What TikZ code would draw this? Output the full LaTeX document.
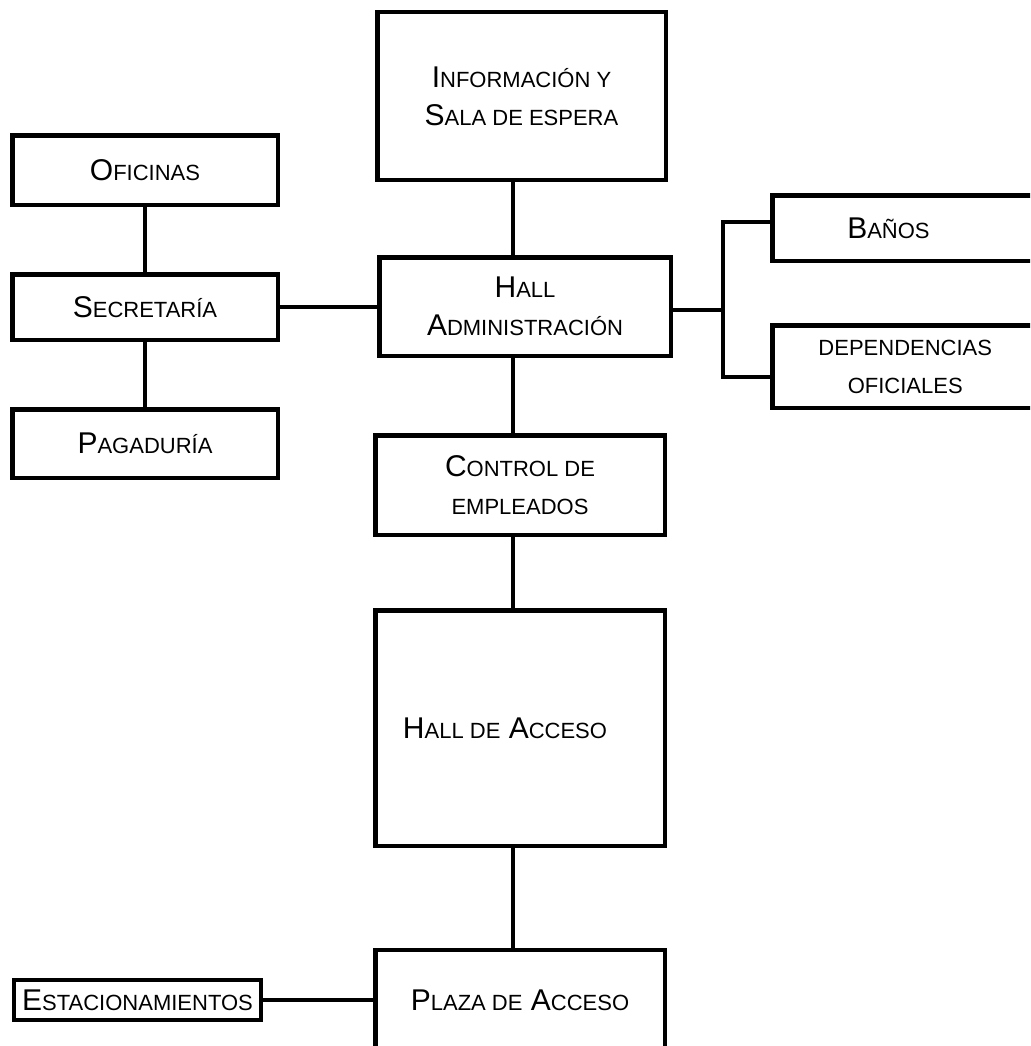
\documentclass[tikz,border=0pt]{standalone}
\usepackage{fontspec}
\setmainfont{Liberation Sans}
\newcommand\Sc[1]{{\fontsize{22}{26}\selectfont #1}}
\begin{document}
\begin{tikzpicture}[x=1pt,y=-1pt,
  box/.style={draw, line width=4.5pt, rectangle, inner sep=0pt, align=center,
    font=\fontsize{30}{38}\selectfont},
  conn/.style={line width=4pt}]
\useasboundingbox (0,0) rectangle (1030,1046);
\clip (0,0) rectangle (1030,1046);
\fill[white] (0,0) rectangle (1030,1046);

\node[box, minimum width=288.5pt, minimum height=167.5pt] (info) at (521.5,96)
  {I\Sc{NFORMACIÓN Y}\\S\Sc{ALA DE ESPERA}};
\node[box, minimum width=265.5pt, minimum height=69.5pt] (ofi) at (145,170) {O\Sc{FICINAS}};
\node[box, minimum width=265.5pt, minimum height=65.5pt] (sec) at (145,307) {S\Sc{ECRETARÍA}};
\node[box, minimum width=265.5pt, minimum height=68.5pt] (pag) at (145,443.5) {P\Sc{AGADURÍA}};
\node[box, minimum width=291.5pt, minimum height=98.5pt] (hadm) at (525,306.5)
  {H\Sc{ALL}\\A\Sc{DMINISTRACIÓN}};
\node[box, minimum width=289.5pt, minimum height=99.5pt] (ctrl) at (520,485)
  {C\Sc{ONTROL DE}\\\Sc{EMPLEADOS}};
\node[box, minimum width=289.5pt, minimum height=235.5pt] (hacc) at (520,728)
  {H\Sc{ALL DE} A\Sc{CCESO}\hspace*{30pt}};
\node[box, minimum width=289.5pt, minimum height=100pt] (plaza) at (520,1000)
  {P\Sc{LAZA DE} A\Sc{CCESO}};
\node[box, line width=4pt, minimum width=247pt, minimum height=40pt] (estac) at (137.5,1000)
  {E\Sc{STACIONAMIENTOS}};
\node[box, anchor=west, minimum height=65.5pt, text width=280pt, align=left,
  inner xsep=10pt] (banos) at (770,228) {\hspace*{65pt}B\Sc{AÑOS}};
\node[box, anchor=west, minimum height=82.5pt, text width=246pt, align=center,
  inner xsep=10pt] (dep) at (770,366.5) {\Sc{DEPENDENCIAS}\\\Sc{OFICIALES}};

\coordinate (spine) at (513,0);
\coordinate (jt) at (723,310);
\coordinate (jb) at (723,222);
\coordinate (jd) at (723,377);

\draw[conn] (info.south -| spine) -- (hadm.north -| spine);
\draw[conn] (hadm.south -| spine) -- (ctrl.north -| spine);
\draw[conn] (ctrl.south -| spine) -- (hacc.north -| spine);
\draw[conn] (hacc.south -| spine) -- (plaza.north -| spine);
\draw[conn] (ofi) -- (sec);
\draw[conn] (sec) -- (pag);
\draw[conn] (sec.east) -- (sec.east -| hadm.west);
\draw[conn] (estac.east) -- (estac.east -| plaza.west);
\draw[conn] (hadm.east |- jt) -- (jt);
\draw[conn, line cap=rect] (jb -| banos.west) -- (jb) -- (jd) -- (jd -| dep.west);
\end{tikzpicture}
\end{document}
